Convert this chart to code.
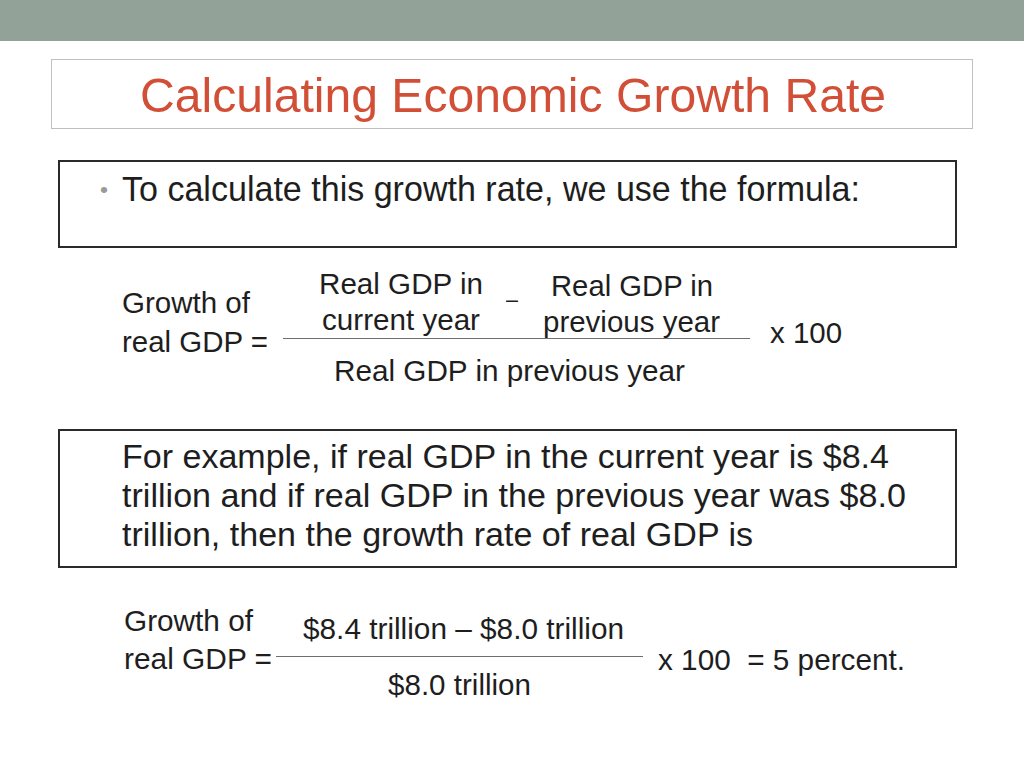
<!DOCTYPE html>
<html>
<head>
<meta charset="utf-8">
<script src="https://cdn.jsdelivr.net/npm/chart.js@4"></script>
<style>
  html, body { margin:0; padding:0; background:#fff; width:1024px; height:768px; overflow:hidden; }
  body { position:relative; font-family:"Liberation Sans", Arial, Helvetica, sans-serif; color:#1e1e1e; }
  .t { position:absolute; white-space:nowrap; line-height:1; transform-origin:0 0; }
  .box { position:absolute; box-sizing:border-box; }
  .rule { position:absolute; height:0; border-top:1.5px solid #6e6e6e; }
</style>
</head>
<body>
<div class="box" style="left:0;top:0;width:1024px;height:41px;background:#93a299;"></div>
<div class="box" style="left:51px;top:59px;width:922px;height:70px;border:1px solid #bcc2c2;"></div>
<div class="box" style="left:58px;top:160px;width:899px;height:88px;border:2px solid #2a2a2a;"></div>
<div class="box" style="left:58px;top:429px;width:899px;height:139px;border:2px solid #2a2a2a;"></div>
<div class="rule" style="left:283px;top:338px;width:467px;"></div>
<div class="rule" style="left:276px;top:656px;width:367px;"></div>
<div id="texts"></div>
<script>
// Data
const currentGDP = 8.4;   // trillion $
const previousGDP = 8.0;  // trillion $
const growthPercent = 5;  // percent
const multiplier = 100;

const fmt = v => "$" + v.toFixed(1) + " trillion";

// [text, left, capCenterY, fontSize, targetWidth, color]
const items = [
  ["Calculating Economic Growth Rate", 140, 95, 49, 746, "#d24f37"],
  ["\u2022", 100, 190, 22, 8, "#9a9a9a"],
  ["To calculate this growth rate, we use the formula:", 122, 188, 35, 738],
  ["Growth of", 122, 303, 30, 128],
  ["real GDP =", 122, 342, 30, 146],
  ["Real GDP in", 319, 284, 30, 164],
  ["current year", 322, 320, 30, 158],
  ["\u2013", 506, 299, 24, 12],
  ["Real GDP in", 551, 286, 30, 162],
  ["previous year", 543, 322, 30, 177],
  ["Real GDP in previous year", 334, 371, 30, 351],
  ["x " + multiplier, 770, 333, 30, 72],
  ["For example, if real GDP in the current year is $" + currentGDP.toFixed(1), 122, 456, 33, 767],
  ["trillion and if real GDP in the previous year was $" + previousGDP.toFixed(1), 122, 495, 33, 784],
  ["trillion, then the growth rate of real GDP is", 122, 534, 33, 631],
  ["Growth of", 124, 621, 30, 129],
  ["real GDP =", 124, 659, 30, 148],
  [fmt(currentGDP) + " \u2013 " + fmt(previousGDP), 303, 629, 30, 321],
  [fmt(previousGDP), 388, 685, 30, 143],
  ["x " + multiplier + "\u00a0 = " + growthPercent + " percent.", 658, 660, 30, 247]
];

const host = document.getElementById("texts");
items.forEach(([txt, x, cy, fs, w, col]) => {
  const d = document.createElement("div");
  d.className = "t";
  d.textContent = txt;
  d.style.fontSize = fs + "px";
  d.style.left = x + "px";
  d.style.top = (cy - 0.49 * fs) + "px";
  if (col) d.style.color = col;
  host.appendChild(d);
  const nat = d.getBoundingClientRect().width;
  if (nat > 0) d.style.transform = "scaleX(" + (w / nat).toFixed(4) + ")";
});
</script>
</body>
</html>
